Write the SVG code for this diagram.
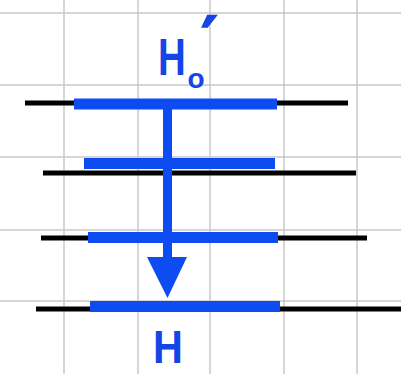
<svg xmlns="http://www.w3.org/2000/svg" width="401" height="374" viewBox="0 0 401 374">
<style>
.grid{stroke:#c9c9c9;stroke-width:1.5}
.blk{stroke:#000;stroke-width:5}
.blu{stroke:#0d4cf0;stroke-width:11}
.lbl{fill:#1446e6;font-family:"Liberation Sans",Arial,sans-serif;font-weight:bold}
</style>
<rect width="401" height="374" fill="#fff"/>
<g id="grid">
<line class="grid" x1="64" y1="0" x2="64" y2="374"/>
<line class="grid" x1="138" y1="0" x2="138" y2="374"/>
<line class="grid" x1="210" y1="0" x2="210" y2="374"/>
<line class="grid" x1="284" y1="0" x2="284" y2="374"/>
<line class="grid" x1="357" y1="0" x2="357" y2="374"/>
<line class="grid" x1="0" y1="13" x2="401" y2="13"/>
<line class="grid" x1="0" y1="85" x2="401" y2="85"/>
<line class="grid" x1="0" y1="157" x2="401" y2="157"/>
<line class="grid" x1="0" y1="230" x2="401" y2="230"/>
<line class="grid" x1="0" y1="301" x2="401" y2="301"/>
</g>
<g id="level1">
<line class="blk" x1="25" y1="103" x2="348" y2="103"/>
<line class="blu" x1="74" y1="104" x2="277" y2="104"/>
</g>
<g id="level2">
<line class="blk" x1="43" y1="173" x2="356" y2="173"/>
<line class="blu" x1="84" y1="163.5" x2="275" y2="163.5"/>
</g>
<g id="level3">
<line class="blk" x1="41" y1="238" x2="367" y2="238"/>
<line class="blu" x1="88" y1="237.5" x2="278" y2="237.5"/>
</g>
<g id="level4">
<line class="blk" x1="36" y1="309" x2="401" y2="309"/>
<line class="blu" x1="90" y1="306.5" x2="280" y2="306.5"/>
</g>
<g id="connectors">
<line x1="167.5" y1="109" x2="167.5" y2="259" stroke="#0d4cf0" stroke-width="9"/>
<polygon points="147,257 187,257 167.5,298" fill="#0d4cf0"/>
</g>
<g id="label-top">
<text class="lbl" font-size="52" transform="translate(158,75) scale(0.74,1)">H</text>
<text class="lbl" x="187.5" y="88" font-size="28">o</text>
<text class="lbl" x="201" y="62" font-size="64" style="font-family:'DejaVu Sans',sans-serif" stroke="#1446e6" stroke-width="1.5">′</text>
</g>
<g id="label-bottom">
<text class="lbl" font-size="46" transform="translate(153,363) scale(0.9,1)">H</text>
</g>
</svg>
